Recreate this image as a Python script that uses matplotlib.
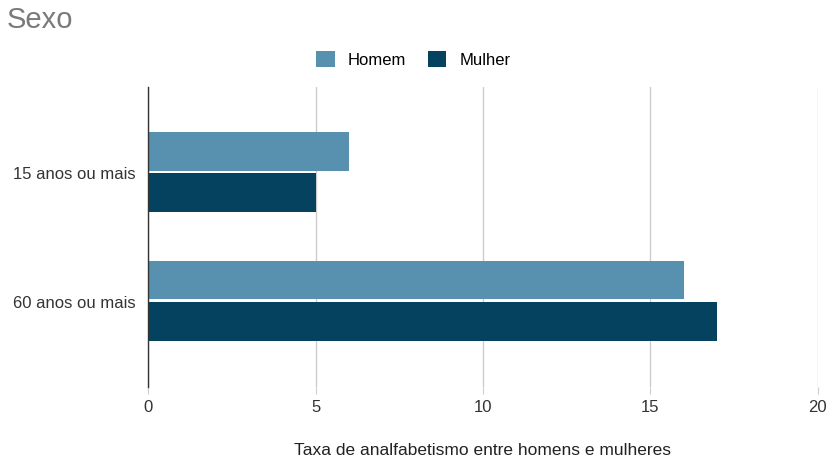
import numpy as np
import matplotlib.pyplot as plt

categorias = ['15 anos ou mais', '60 anos ou mais']
homem = [6, 16]
mulher = [5, 17]
ticks_x = [0, 5, 10, 15, 20]

cor_homem = '#5891AF'
cor_mulher = '#05425F'

plt.rcParams['font.family'] = ['Liberation Sans', 'DejaVu Sans']

fig = plt.figure(figsize=(8.32, 4.64), dpi=100)
ax = fig.add_axes([0.178, 0.164, 0.805, 0.646])

y = np.arange(len(categorias))
h = 0.30
ax.barh(y - h / 2 - 0.01, homem, height=h, color=cor_homem, label='Homem', zorder=3)
ax.barh(y + h / 2 + 0.01, mulher, height=h, color=cor_mulher, label='Mulher', zorder=3)

ax.set_xlim(0, 20)
ax.set_ylim(1.67, -0.66)
ax.set_xticks(ticks_x)
ax.set_yticks(y)
ax.set_yticklabels(categorias, fontsize=12, color='#333333')
ax.tick_params(axis='x', labelsize=12, colors='#333333', length=5, color='#cccccc', pad=4)
ax.tick_params(axis='y', length=0, pad=9)
ax.grid(axis='x', color='#cccccc', linewidth=1, zorder=0)

for s in ['top', 'right', 'bottom']:
    ax.spines[s].set_visible(False)
ax.spines['left'].set_color('#333333')
ax.spines['left'].set_linewidth(1)
ax.spines['left'].set_zorder(4)

ax.set_xlabel('Taxa de analfabetismo entre homens e mulheres', fontsize=12.5,
              color='#222222', labelpad=20)

fig.text(0.008, 0.957, 'Sexo', fontsize=21, color='#7a7a7a', va='center', ha='left')
fig.legend(loc='center', bbox_to_anchor=(0.497, 0.871), ncol=2, frameon=False,
           fontsize=12, handlelength=1.1, handleheight=1.1, columnspacing=1.3,
           handletextpad=0.8)

fig.savefig('out.png', dpi=100)
